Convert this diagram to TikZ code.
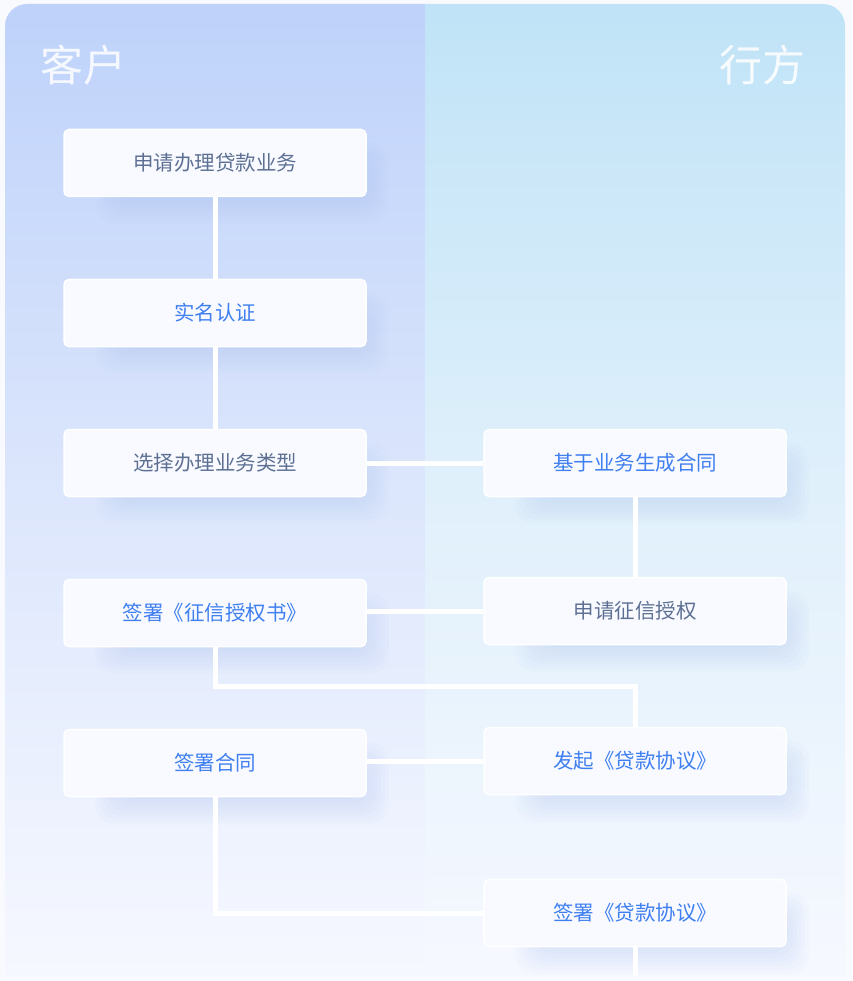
\documentclass[tikz,border=0pt]{standalone}
\usepackage{fontspec}
\newfontfamily\cjk{Noto Sans CJK SC}
\usetikzlibrary{positioning}
\definecolor{pageBg}{HTML}{F9FAFE}
\definecolor{leftTop}{HTML}{BED2FA}
\definecolor{leftMid}{HTML}{DCE6FC}
\definecolor{rightTop}{HTML}{C0E3F7}
\definecolor{rightMid}{HTML}{E0F0FB}
\definecolor{paleBot}{HTML}{F6F8FF}
\definecolor{boxFill}{HTML}{F8FAFF}
\definecolor{grayText}{HTML}{5D7093}
\definecolor{blueText}{HTML}{3F7FF0}
\definecolor{shadowBlue}{HTML}{A9C0F5}
\pgfdeclarelayer{lanes}
\pgfdeclarelayer{glow}
\pgfsetlayers{lanes,glow,main}
\tikzset{
  stepbox/.style={draw=white, line width=1.5pt, fill=boxFill, rounded corners=5pt,
    minimum width=302pt, minimum height=67pt, font=\cjk\fontsize{20.5pt}{24pt}\selectfont},
  graystep/.style={stepbox, text=grayText},
  bluestep/.style={stepbox, text=blueText},
  link/.style={draw=white, line width=5pt},
  glowbox/.style={fill=shadowBlue, opacity=0.05, rounded corners=18pt},
  lanetitle/.style={text=white, text opacity=0.85, font=\cjk\fontsize{43pt}{48pt}\selectfont}
}
\begin{document}
\begin{tikzpicture}[x=1pt, y=-1pt]
  \useasboundingbox (0,0) rectangle (852,981);
  % the two lanes
  \begin{pgfonlayer}{lanes}
    \fill[pageBg] (0,0) rectangle (852,981);
    \begin{scope}
      \clip[rounded corners=22pt] (5,4) rectangle (845,1000);
      \shade[top color=leftTop, bottom color=paleBot, middle color=leftMid] (5,4) rectangle (425,976);
      \shade[top color=rightTop, bottom color=paleBot, middle color=rightMid] (425,4) rectangle (845,976);
    \end{scope}
  \end{pgfonlayer}
  \node[lanetitle] (client) at (83,65) {客户};
  \node[lanetitle] (bank) at (762,65) {行方};

  % client side
  \node[graystep] (apply) at (215,163) {申请办理贷款业务};
  \node[bluestep] (verify) at (215,313) {实名认证};
  \node[graystep] (choose) at (215,463) {选择办理业务类型};
  \node[bluestep] (signauth) at (215,613) {签署《征信授权书》};
  \node[bluestep] (signcont) at (215,763) {签署合同};
  % bank side
  \node[bluestep] (contract) at (635,463) {基于业务生成合同};
  \node[graystep] (credit) at (635,611) {申请征信授权};
  \node[bluestep] (initiate) at (635,761) {发起《贷款协议》};
  \node[bluestep] (signloan) at (635,913) {签署《贷款协议》};
  \coordinate (tail) at (635,976);

  % soft glow under the boxes
  \begin{pgfonlayer}{glow}
    \foreach \n in {apply,verify,choose,signauth,signcont,contract,credit,initiate,signloan}
      \foreach \b in {0,4,...,28}
        \fill[glowbox] ([shift={(60-\b,42-\b)}]\n.north west) rectangle ([shift={(-6+\b,-2+\b)}]\n.south east);
  \end{pgfonlayer}

  \draw[link] (apply) -- (verify);
  \draw[link] (verify) -- (choose);
  \draw[link] (choose) -- (contract);
  \draw[link] (contract) -- (credit);
  \draw[link] (credit.west) -- (credit.west -| signauth.east);
  \draw[link] (signauth.south) -- ++(0,39) -| (initiate.north);
  \draw[link] (initiate.west) -- (initiate.west -| signcont.east);
  \draw[link] (signcont.south) |- (signloan.west);
  \draw[link] (signloan.south) -- (tail);
\end{tikzpicture}
\end{document}
